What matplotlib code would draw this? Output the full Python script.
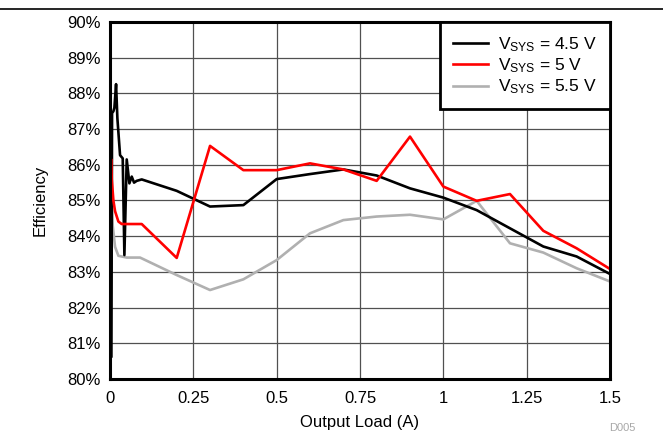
import matplotlib
matplotlib.use('Agg')
import matplotlib.pyplot as plt
import matplotlib.ticker as ticker
from matplotlib.lines import Line2D

plt.rcParams['font.family'] = ['Liberation Sans', 'DejaVu Sans']
plt.rcParams['mathtext.fontset'] = 'custom'
plt.rcParams['mathtext.rm'] = 'Liberation Sans'
plt.rcParams['mathtext.it'] = 'Liberation Sans:italic'
plt.rcParams['mathtext.bf'] = 'Liberation Sans:bold'

# efficiency vs output load, one curve per input voltage
load_45 = [0.004, 0.006, 0.01, 0.013, 0.018, 0.022, 0.03, 0.038, 0.043, 0.05, 0.058,
           0.065, 0.072, 0.08, 0.095, 0.2, 0.3, 0.4, 0.5, 0.6, 0.7, 0.8, 0.9, 1.0,
           1.1, 1.2, 1.3, 1.4, 1.5]
eff_45 = [80.63, 87.45, 87.5, 87.6, 88.26, 87.3, 86.27, 86.18, 83.47, 86.15, 85.48,
          85.67, 85.5, 85.55, 85.59, 85.27, 84.83, 84.87, 85.6, 85.74, 85.87, 85.7,
          85.34, 85.08, 84.73, 84.22, 83.71, 83.43, 82.94]

load_5 = [0.004, 0.005, 0.01, 0.015, 0.025, 0.035, 0.095, 0.2, 0.3, 0.4, 0.5, 0.6,
          0.7, 0.8, 0.9, 1.0, 1.1, 1.2, 1.3, 1.4, 1.5]
eff_5 = [86.13, 85.6, 85.0, 84.7, 84.41, 84.34, 84.34, 83.39, 86.53, 85.85, 85.85,
         86.04, 85.87, 85.55, 86.79, 85.39, 84.99, 85.18, 84.15, 83.66, 83.08]

load_55 = [0.004, 0.008, 0.015, 0.025, 0.05, 0.09, 0.2, 0.3, 0.4, 0.5, 0.6, 0.7,
           0.8, 0.9, 1.0, 1.1, 1.2, 1.3, 1.4, 1.5]
eff_55 = [85.3, 84.3, 83.7, 83.45, 83.4, 83.4, 82.91, 82.49, 82.79, 83.33, 84.08,
          84.45, 84.55, 84.6, 84.47, 84.99, 83.8, 83.54, 83.1, 82.73]

x_ticks = [0, 0.25, 0.5, 0.75, 1, 1.25, 1.5]
x_tick_labels = ['0', '0.25', '0.5', '0.75', '1', '1.25', '1.5']
y_ticks = list(range(80, 91))

fig = plt.figure(figsize=(6.63, 4.33), dpi=100)
ax = fig.add_axes([0.166, 0.125, 0.754, 0.824])

ax.plot(load_45, eff_45, color='black', lw=1.9, label=r'V$_{\mathrm{SYS}}$ = 4.5 V', zorder=3)
ax.plot(load_5, eff_5, color='#ff0000', lw=1.9, label=r'V$_{\mathrm{SYS}}$ = 5 V', zorder=3)
ax.plot(load_55, eff_55, color='#b0b0b0', lw=1.9, label=r'V$_{\mathrm{SYS}}$ = 5.5 V', zorder=2)

ax.set_xlim(0, 1.5)
ax.set_ylim(80, 90)
ax.set_xticks(x_ticks)
ax.set_xticklabels(x_tick_labels)
ax.set_yticks(y_ticks)
ax.yaxis.set_major_formatter(ticker.StrMethodFormatter('{x:.0f}%'))
ax.tick_params(length=0, labelsize=12)
ax.tick_params(axis='x', pad=9)
ax.tick_params(axis='y', pad=7)
ax.grid(True, color='#505050', lw=0.9)
ax.set_axisbelow(True)
for s in ax.spines.values():
    s.set_linewidth(2.2)
    s.set_zorder(4)

ax.set_xlabel('Output Load (A)', fontsize=12, labelpad=6)
ax.set_ylabel('Efficiency', fontsize=12, labelpad=14)

leg = ax.legend(loc='upper right', fontsize=12.5, frameon=True, fancybox=False,
                borderaxespad=0, handlelength=2.0, handletextpad=0.6,
                labelspacing=0.15, borderpad=0.75)
leg.get_frame().set_edgecolor('black')
leg.get_frame().set_linewidth(2.0)
leg.get_frame().set_alpha(1)

fig.add_artist(Line2D([0, 1], [0.979, 0.979], color='black', lw=1.2))
fig.text(0.958, 0.0, 'D005', fontsize=8, color='#a8a8a8', ha='right', va='bottom')

fig.savefig('out.png', dpi=100)
